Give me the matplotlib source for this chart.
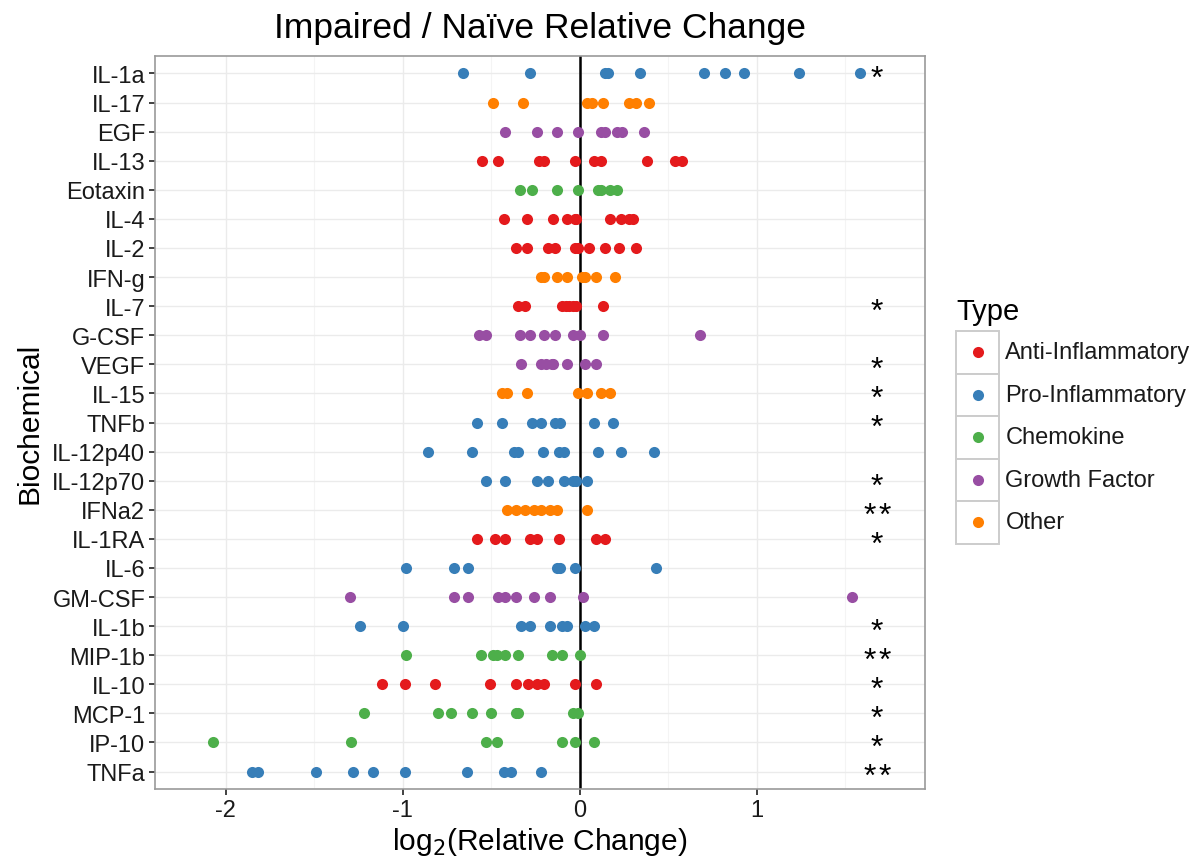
import matplotlib
matplotlib.use("Agg")
import matplotlib.pyplot as plt
from matplotlib.patches import Rectangle

plt.rcParams["font.family"] = ["Liberation Sans", "DejaVu Sans"]

# rows, top to bottom
biochemicals = ["IL-1a", "IL-17", "EGF", "IL-13", "Eotaxin", "IL-4", "IL-2", "IFN-g",
                "IL-7", "G-CSF", "VEGF", "IL-15", "TNFb", "IL-12p40", "IL-12p70",
                "IFNa2", "IL-1RA", "IL-6", "GM-CSF", "IL-1b", "MIP-1b", "IL-10",
                "MCP-1", "IP-10", "TNFa"]
row_type = ["Pro-Inflammatory", "Other", "Growth Factor", "Anti-Inflammatory", "Chemokine",
            "Anti-Inflammatory", "Anti-Inflammatory", "Other", "Anti-Inflammatory",
            "Growth Factor", "Growth Factor", "Other", "Pro-Inflammatory", "Pro-Inflammatory",
            "Pro-Inflammatory", "Other", "Anti-Inflammatory", "Pro-Inflammatory",
            "Growth Factor", "Pro-Inflammatory", "Chemokine", "Anti-Inflammatory",
            "Chemokine", "Chemokine", "Pro-Inflammatory"]
stars = ["*", "", "", "", "", "", "", "", "*", "", "*", "*", "*", "", "*", "**", "*", "",
         "", "*", "**", "*", "*", "*", "**"]

il_1a = [-0.66, -0.28, 0.14, 0.16, 0.34, 0.70, 0.82, 0.93, 1.24, 1.58]
il_17 = [-0.49, -0.32, 0.04, 0.07, 0.13, 0.28, 0.32, 0.39]
egf = [-0.42, -0.24, -0.13, -0.01, 0.12, 0.14, 0.21, 0.24, 0.36]
il_13 = [-0.55, -0.46, -0.23, -0.20, -0.03, 0.08, 0.12, 0.38, 0.54, 0.58]
eotaxin = [-0.34, -0.27, -0.13, -0.01, 0.10, 0.12, 0.17, 0.21]
il_4 = [-0.43, -0.30, -0.15, -0.07, -0.03, -0.02, 0.17, 0.23, 0.28, 0.30]
il_2 = [-0.36, -0.30, -0.18, -0.14, -0.03, -0.01, 0.05, 0.14, 0.22, 0.32]
ifn_g = [-0.22, -0.20, -0.13, -0.07, 0.01, 0.03, 0.09, 0.20]
il_7 = [-0.35, -0.31, -0.10, -0.08, -0.06, -0.04, -0.02, 0.13]
g_csf = [-0.57, -0.53, -0.34, -0.28, -0.20, -0.14, -0.04, 0.00, 0.13, 0.68]
vegf = [-0.33, -0.22, -0.19, -0.16, -0.15, -0.07, 0.03, 0.09]
il_15 = [-0.44, -0.41, -0.30, -0.01, 0.04, 0.12, 0.17]
tnfb = [-0.58, -0.44, -0.27, -0.22, -0.14, -0.11, 0.08, 0.19]
il_12p40 = [-0.86, -0.61, -0.37, -0.35, -0.21, -0.12, -0.09, 0.10, 0.23, 0.42]
il_12p70 = [-0.53, -0.42, -0.24, -0.18, -0.09, -0.04, -0.02, 0.04]
ifna2 = [-0.41, -0.36, -0.31, -0.26, -0.22, -0.17, -0.13, 0.04]
il_1ra = [-0.58, -0.48, -0.42, -0.28, -0.24, -0.12, 0.09, 0.14]
il_6 = [-0.98, -0.71, -0.63, -0.13, -0.11, -0.03, 0.43]
gm_csf = [-1.30, -0.71, -0.63, -0.46, -0.42, -0.36, -0.26, -0.17, 0.02, 1.54]
il_1b = [-1.24, -1.00, -0.33, -0.28, -0.17, -0.10, -0.07, 0.03, 0.08]
mip_1b = [-0.98, -0.56, -0.49, -0.47, -0.42, -0.35, -0.16, -0.10, 0.00]
il_10 = [-1.12, -0.99, -0.82, -0.51, -0.36, -0.29, -0.24, -0.20, -0.03, 0.09]
mcp_1 = [-1.22, -0.80, -0.73, -0.61, -0.50, -0.36, -0.35, -0.04, -0.01]
ip_10 = [-2.07, -1.29, -0.53, -0.47, -0.10, -0.03, 0.08]
tnfa = [-1.85, -1.82, -1.49, -1.28, -1.17, -0.99, -0.64, -0.43, -0.39, -0.22]

values = [il_1a, il_17, egf, il_13, eotaxin, il_4, il_2, ifn_g, il_7, g_csf, vegf, il_15,
          tnfb, il_12p40, il_12p70, ifna2, il_1ra, il_6, gm_csf, il_1b, mip_1b, il_10,
          mcp_1, ip_10, tnfa]

type_order = ["Anti-Inflammatory", "Pro-Inflammatory", "Chemokine", "Growth Factor", "Other"]
palette = {"Anti-Inflammatory": "#E41A1C", "Pro-Inflammatory": "#377EB8",
           "Chemokine": "#4DAF4A", "Growth Factor": "#984EA3", "Other": "#FF7F00"}
STAR_X = 1.68

fig = plt.figure(figsize=(12.04, 8.62), dpi=100)
ax = fig.add_axes([155 / 1204, 1 - 790 / 862, 770 / 1204, 733 / 862])

n = len(biochemicals)
for i, (name, t, vals, s) in enumerate(zip(biochemicals, row_type, values, stars)):
    y = n - 1 - i
    ax.scatter(vals, [y] * len(vals), s=64, color=palette[t], linewidths=0, zorder=3)
    if s:
        ax.text(STAR_X, y - 0.2, s.replace("**", "*\u200a*"), ha="center", va="center",
                fontsize=23, zorder=4)

ax.axvline(0, color="black", lw=1.8, zorder=2)

ax.set_xlim(-2.40, 1.95)
ax.set_ylim(-0.6, n - 0.4)
ax.set_yticks(range(n))
ax.set_yticklabels(biochemicals[::-1])
ax.set_xticks([-2, -1, 0, 1])
ax.set_xticklabels(["-2", "-1", "0", "1"])
ax.set_xticks([-1.5, -0.5, 0.5, 1.5], minor=True)
ax.tick_params(axis="both", which="major", labelsize=17, length=4, width=1.3,
               color="#333333", labelcolor="#1a1a1a", pad=3)
ax.tick_params(axis="x", which="minor", length=0)
ax.grid(True, which="major", color="#EBEBEB", lw=1.0, zorder=0)
ax.grid(True, which="minor", axis="x", color="#F4F4F4", lw=0.8, zorder=0)
ax.set_axisbelow(True)
for sp in ax.spines.values():
    sp.set_color("#9a9a9a")
    sp.set_linewidth(1.2)

ax.set_title("Impaired / Naïve Relative Change", fontsize=25.5, pad=14)
ax.set_xlabel("log$_2$(Relative Change)", fontsize=21.5, labelpad=3)
ax.set_ylabel("Biochemical", fontsize=21.5, labelpad=6)

# legend drawn as ggplot-style boxed keys
key_h = 42.5
lax = fig.add_axes([956 / 1204, 1 - (332 + 5 * key_h) / 862, 43 / 1204, 5 * key_h / 862])
lax.set_xlim(0, 1)
lax.set_ylim(0, 5)
lax.axis("off")
for k, t in enumerate(type_order):
    yk = 4 - k
    lax.add_patch(Rectangle((0, yk), 1, 1, facecolor="white", edgecolor="#CCCCCC",
                            lw=1.4, clip_on=False))
    lax.scatter([0.5], [yk + 0.5], s=64, color=palette[t], linewidths=0, zorder=3,
                clip_on=False)
    lax.text(1.15, yk + 0.5, t, ha="left", va="center", fontsize=17, color="#1a1a1a")
lax.text(0.0, 5.15, "Type", ha="left", va="bottom", fontsize=21)

fig.savefig("out.png", dpi=100)
